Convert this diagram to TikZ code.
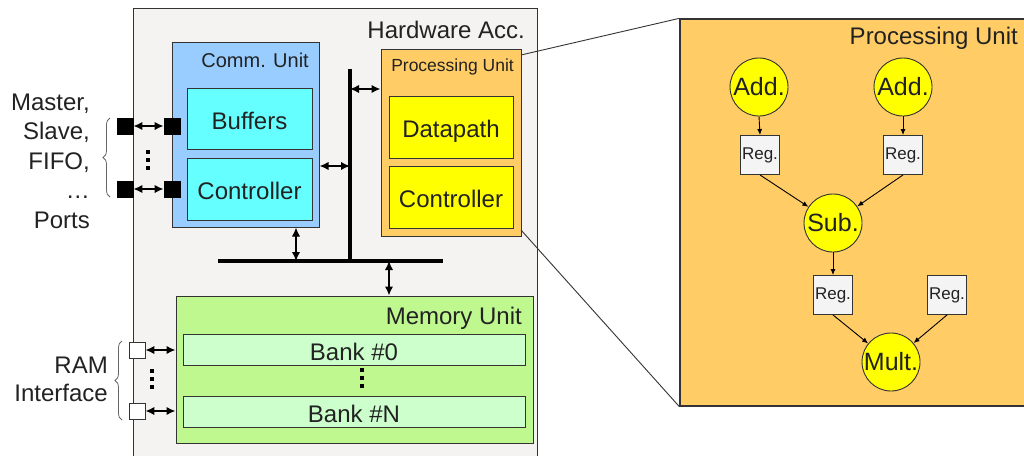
\documentclass[tikz,border=0pt]{standalone}
\usepackage{fontspec}
\setmainfont{Liberation Sans}
\usetikzlibrary{arrows.meta,decorations.pathreplacing}
\definecolor{hwgray}{HTML}{F4F3F1}
\definecolor{commblue}{HTML}{99CCFF}
\definecolor{cyanbox}{HTML}{66FFFF}
\definecolor{puorange}{HTML}{FFCC66}
\definecolor{yel}{HTML}{FFFF00}
\definecolor{memgreen}{HTML}{C0F890}
\definecolor{bankgreen}{HTML}{CCFFCC}
\definecolor{reggray}{HTML}{F4F4F4}
\definecolor{edge}{HTML}{333333}
\definecolor{ink}{HTML}{222222}
\newcommand\fsz[1]{\fontsize{#1}{#1}\selectfont}
\begin{document}
\begin{tikzpicture}[x=1pt,y=-1pt,
  box/.style={draw=edge, line width=1pt, inner sep=0pt, rectangle, text=ink},
  lowtxt/.style={text height=21pt, text depth=0pt},
  txt/.style={text=ink, inner sep=0pt},
  dbl/.style={{Latex[length=9pt,width=8.5pt]}-{Latex[length=9pt,width=8.5pt]}, line width=1.8pt},
  sarr/.style={-{Latex[length=6pt,width=5pt]}, line width=0.9pt, draw=black},
  bus/.style={line width=4pt},
  dots/.style={line width=4pt, dash pattern=on 4pt off 4pt},
  brc/.style={draw=gray!80!black, line width=0.8pt, decorate, decoration={brace, amplitude=7pt}},
  circ/.style={circle, draw=edge, line width=0.9pt, fill=yel, minimum size=58pt, inner sep=0pt, text=ink, font=\fsz{25}},
  reg/.style={box, line width=0.9pt, fill=reggray, minimum width=39pt, minimum height=39pt, font=\fsz{17}},
  port/.style={rectangle, draw=black, line width=0.8pt, minimum size=16pt, inner sep=0pt}
]
\useasboundingbox (0,0) rectangle (1024,455);

% Hardware accelerator frame
\node[box, fill=hwgray, minimum width=404pt, minimum height=462pt] (hw) at (335,239) {};
\node[txt, anchor=east, font=\fsz{24}] (hwl) at (525,30) {Hardware Acc.};

% Communication unit
\node[box, fill=commblue, minimum width=147pt, minimum height=185pt] (cu) at (245.5,134.5) {};
\node[txt, anchor=east, font=\fsz{20}] (cul) at (309,60) {Comm. Unit};
\node[box, lowtxt, fill=cyanbox, minimum width=125pt, minimum height=61pt, font=\fsz{24}] (buf) at (249.5,118.5) {Buffers};
\node[box, lowtxt, fill=cyanbox, minimum width=125pt, minimum height=62pt, font=\fsz{24}] (cc) at (249.5,189) {Controller};

% Processing unit (small)
\node[box, fill=puorange, minimum width=140pt, minimum height=187pt] (spu) at (451,142.5) {};
\node[txt, anchor=east, font=\fsz{17.5}] (spul) at (514,67) {Processing Unit};
\node[box, lowtxt, fill=yel, minimum width=124pt, minimum height=62pt, font=\fsz{24}] (dp) at (451,127) {Datapath};
\node[box, lowtxt, fill=yel, minimum width=124pt, minimum height=62pt, font=\fsz{24}] (pc) at (451,197) {Controller};

% Memory unit
\node[box, fill=memgreen, minimum width=357pt, minimum height=147pt] (mem) at (354.5,369.5) {};
\node[txt, anchor=east, font=\fsz{24}] (meml) at (522,318) {Memory Unit};
\node[box, lowtxt, fill=bankgreen, minimum width=342pt, minimum height=31pt, font=\fsz{24}] (b0) at (354,349.5) {Bank \#0};
\node[box, lowtxt, fill=bankgreen, minimum width=342pt, minimum height=31pt, font=\fsz{24}] (bn) at (354,411.5) {Bank \#N};
\draw[dots] (362,368) -- (362,390);

% Bus
\coordinate (bt) at (350,69);
\coordinate (bj) at (350,261);
\coordinate (bl) at (218,261);
\coordinate (br) at (443,261);
\draw[bus] (bt) -- (bj);
\draw[bus] (bl) -- (br);
\coordinate (bpu) at (350,89);
\coordinate (bcu) at (350,166);
\coordinate (bcd) at (296,261);
\coordinate (bmd) at (389,261);
\draw[dbl] (bpu) -- (bpu -| spu.west);
\draw[dbl] (cu.east |- bcu) -- (bcu);
\draw[dbl] (bcd |- cu.south) -- (bcd);
\draw[dbl] (bmd) -- (bmd |- mem.north);

% Ports
\node[port, fill=black] (po1) at (125,126) {};
\node[port, fill=black] (po2) at (125,189) {};
\node[port, fill=black] (pi1) at (172,126) {};
\node[port, fill=black] (pi2) at (172,189) {};
\draw[dbl] (po1) -- (pi1);
\draw[dbl] (po2) -- (pi2);
\draw[dots] (148,150) -- (148,170);
\draw[brc] (110,197) -- (110,118);
\node[txt, anchor=east, align=right, font=\fontsize{24}{29.5}\selectfont] (portl) at (90,161) {Master,\\Slave,\\FIFO,\\\dots\\Ports};

% RAM interface
\node[port, fill=white, draw=edge] (r1) at (137,350) {};
\node[port, fill=white, draw=edge] (r2) at (137,411) {};
\draw[dbl] (r1.east) -- (r1.east -| mem.west);
\draw[dbl] (r2.east) -- (r2.east -| mem.west);
\draw[dots] (152,369) -- (152,389);
\draw[brc] (122,420) -- (122,341);
\node[txt, anchor=east, align=right, font=\fontsize{24}{28}\selectfont] (raml) at (108,379) {RAM\\Interface};

% Big processing unit
\node[box, fill=puorange, line width=1.3pt, minimum width=360pt, minimum height=387pt] (big) at (860,212.5) {};
\node[txt, anchor=east, font=\fsz{24}] (bigl) at (1018,38) {Processing Unit};
\coordinate (zt) at (521,55);
\coordinate (zb) at (521,230);
\draw[edge, line width=0.9pt] (zt) -- (big.north west);
\draw[edge, line width=0.9pt] (zb) -- (big.south west);

\node[circ] (a1) at (759,87) {Add.};
\node[circ] (a2) at (903,87) {Add.};
\node[reg] (r1b) at (760,155) {Reg.};
\node[reg] (r2b) at (903,155) {Reg.};
\node[circ] (sub) at (833,223) {Sub.};
\node[reg] (r3b) at (833,295) {Reg.};
\node[reg] (r4b) at (947,295) {Reg.};
\node[circ] (mul) at (891,362) {Mult.};
\draw[sarr] (a1.south) -- (r1b.north);
\draw[sarr] (a2.south) -- (r2b.north);
\draw[sarr] (r1b.south) -- (sub);
\draw[sarr] (r2b.south) -- (sub);
\draw[sarr] (sub.south) -- (r3b.north);
\draw[sarr] (r3b.south) -- (mul);
\draw[sarr] (r4b.south) -- (mul);
\end{tikzpicture}
\end{document}
